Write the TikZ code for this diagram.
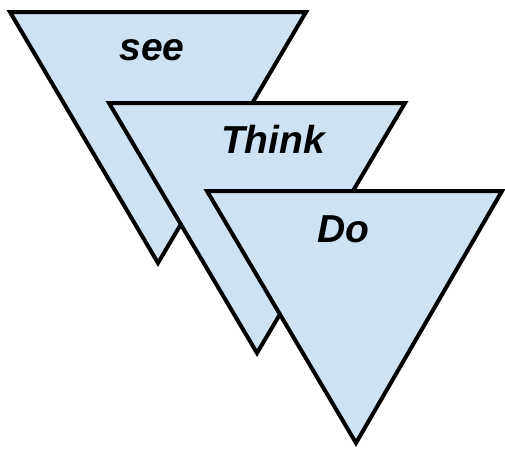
\documentclass[tikz,border=0pt]{standalone}
\usepackage{fontspec}
\setmainfont{Liberation Sans}
\definecolor{tri}{HTML}{CFE2F3}
\begin{document}
\begin{tikzpicture}[x=1pt,y=-1pt,
  funnel/.style={fill=tri,draw=black,line width=4pt,line join=miter},
  lbl/.style={font=\fontsize{39}{44}\selectfont\bfseries\itshape,inner sep=0pt}]
\useasboundingbox (0,0) rectangle (505,450);
\coordinate (a1) at (10,12); \coordinate (b1) at (306,12); \coordinate (c1) at (158,263);
\coordinate (a2) at (109,103); \coordinate (b2) at (405,103); \coordinate (c2) at (257,353);
\coordinate (a3) at (207,191); \coordinate (b3) at (502,191); \coordinate (c3) at (356,443);
\draw[funnel] (a1) -- (b1) -- (c1) -- cycle;
\node[lbl] (see) at (152,50) {see};
\draw[funnel] (a2) -- (b2) -- (c2) -- cycle;
\node[lbl] (think) at (273,139) {Think};
\draw[funnel] (a3) -- (b3) -- (c3) -- cycle;
\node[lbl] (do) at (343,229) {Do};
\end{tikzpicture}
\end{document}
